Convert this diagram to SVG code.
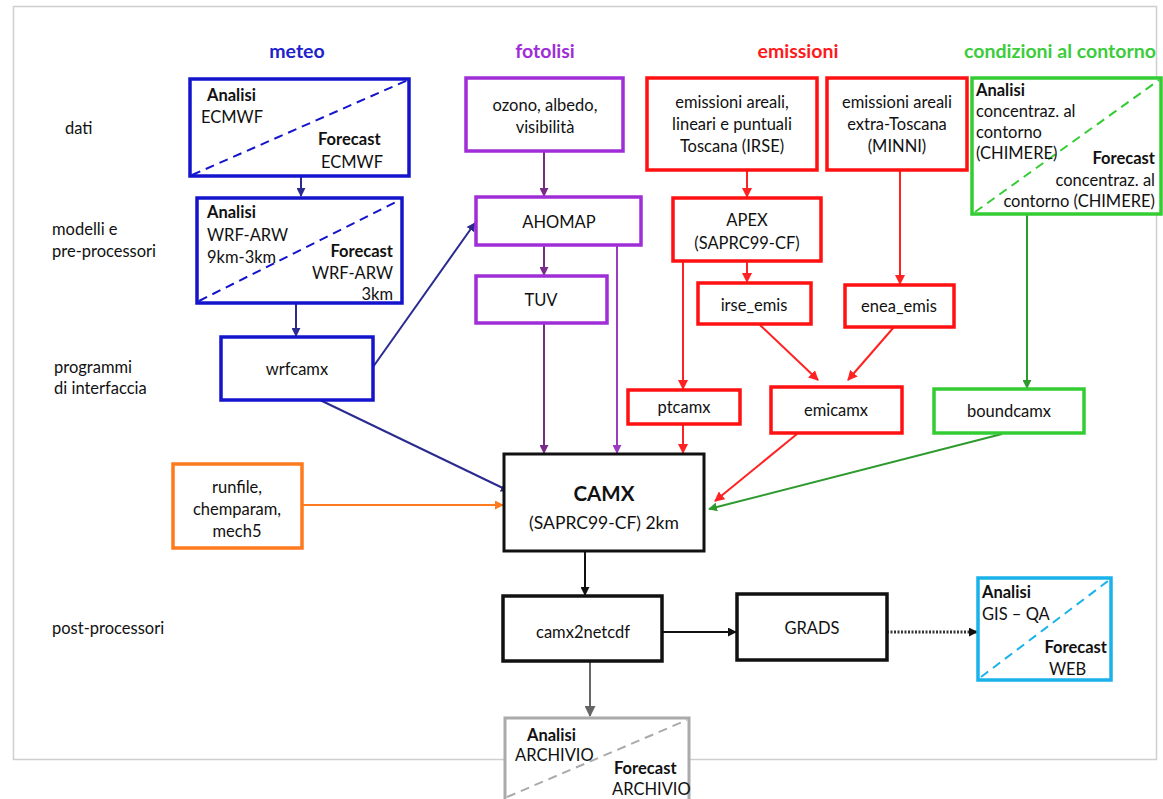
<svg xmlns="http://www.w3.org/2000/svg" width="1163" height="799" viewBox="0 0 1163 799">
<defs>
<style>
text{font-family:Lato,"Open Sans","Liberation Sans",sans-serif;font-size:16.5px;fill:#111}
.b{font-weight:bold}
.m{text-anchor:middle}
.e{text-anchor:end}
.h{font-size:19.5px;font-weight:bold;text-anchor:middle}
.box{fill:#fff;stroke-width:3.5}
.blue{stroke:#1414cc}.purple{stroke:#a02ed8}.red{stroke:#ff1111}.green{stroke:#33cc33}
.orange{stroke:#ff7a1c}.black{stroke:#111}.cyan{stroke:#1ab2ea}.gray{stroke:#aaaaaa}
.dash{fill:none;stroke-width:2;stroke-dasharray:9 6}
.c{fill:none;stroke-width:2}
</style>
<marker id="aNavy" viewBox="0 0 10 10" refX="9" refY="5" markerWidth="9" markerHeight="9" markerUnits="userSpaceOnUse" orient="auto"><path d="M0,0L10,5L0,10z" fill="#2a2a90"/></marker>
<marker id="aPur" viewBox="0 0 10 10" refX="9" refY="5" markerWidth="9" markerHeight="9" markerUnits="userSpaceOnUse" orient="auto"><path d="M0,0L10,5L0,10z" fill="#7a2a88"/></marker>
<marker id="aPur2" viewBox="0 0 10 10" refX="9" refY="5" markerWidth="9" markerHeight="9" markerUnits="userSpaceOnUse" orient="auto"><path d="M0,0L10,5L0,10z" fill="#9b3cbf"/></marker>
<marker id="aRed" viewBox="0 0 10 10" refX="9" refY="5" markerWidth="10" markerHeight="10" markerUnits="userSpaceOnUse" orient="auto"><path d="M0,0L10,5L0,10z" fill="#ff2222"/></marker>
<marker id="aGreen" viewBox="0 0 10 10" refX="9" refY="5" markerWidth="9" markerHeight="9" markerUnits="userSpaceOnUse" orient="auto"><path d="M0,0L10,5L0,10z" fill="#2e9a2e"/></marker>
<marker id="aOr" viewBox="0 0 10 10" refX="9" refY="5" markerWidth="9" markerHeight="9" markerUnits="userSpaceOnUse" orient="auto"><path d="M0,0L10,5L0,10z" fill="#ff7a1c"/></marker>
<marker id="aBlk" viewBox="0 0 10 10" refX="9" refY="5" markerWidth="9" markerHeight="9" markerUnits="userSpaceOnUse" orient="auto"><path d="M0,0L10,5L0,10z" fill="#111"/></marker>
<marker id="aGray" viewBox="0 0 10 10" refX="9" refY="5" markerWidth="11" markerHeight="11" markerUnits="userSpaceOnUse" orient="auto"><path d="M0,0L10,5L0,10z" fill="#666"/></marker>
</defs>
<rect width="1163" height="799" fill="#fff"/>
<rect x="13.5" y="6.5" width="1143" height="753" fill="none" stroke="#cfcfcf" stroke-width="1.5"/>

<g id="headers">
<text class="h" x="297" y="58" style="fill:#2222cc">meteo</text>
<text class="h" x="545" y="58" style="fill:#a02ed8">fotolisi</text>
<text class="h" x="798" y="58" style="fill:#ff1a1a">emissioni</text>
<text class="h" x="1060" y="58" style="fill:#3ccc3c">condizioni al contorno</text>
</g>
<g id="rowlabels">
<text x="65" y="134">dati</text>
<text x="52" y="235">modelli e</text>
<text x="52" y="257">pre-processori</text>
<text x="54" y="373">programmi</text>
<text x="54" y="394">di interfaccia</text>
<text x="52" y="634">post-processori</text>
</g>

<g id="connectors">
<line class="c" x1="301" y1="177" x2="301" y2="196" stroke="#2a2a90" marker-end="url(#aNavy)"/>
<line class="c" x1="296" y1="303" x2="296" y2="336" stroke="#2a2a90" marker-end="url(#aNavy)"/>
<line class="c" x1="373" y1="367" x2="475" y2="223" stroke="#2a2a90" marker-end="url(#aNavy)"/>
<line class="c" x1="320" y1="400" x2="509" y2="491" stroke="#2a2a90" marker-end="url(#aNavy)"/>
<line class="c" x1="302" y1="505" x2="503" y2="505" stroke="#ff7a1c" marker-end="url(#aOr)"/>
<line class="c" x1="544" y1="151" x2="544" y2="196" stroke="#7a2a88" marker-end="url(#aPur)"/>
<line class="c" x1="544" y1="245" x2="544" y2="275" stroke="#7a2a88" marker-end="url(#aPur)"/>
<line class="c" x1="544" y1="323" x2="544" y2="453" stroke="#7a2a88" marker-end="url(#aPur)"/>
<line class="c" x1="617" y1="245" x2="617" y2="453" stroke="#9b3cbf" marker-end="url(#aPur2)"/>
<line class="c" x1="747" y1="170" x2="747" y2="197" stroke="#ff2222" marker-end="url(#aRed)"/>
<line class="c" x1="747" y1="261" x2="747" y2="282" stroke="#ff2222" marker-end="url(#aRed)"/>
<line class="c" x1="683" y1="261" x2="683" y2="389" stroke="#ff2222" marker-end="url(#aRed)"/>
<line class="c" x1="683" y1="424" x2="683" y2="453" stroke="#ff2222" marker-end="url(#aRed)"/>
<line class="c" x1="900" y1="170" x2="900" y2="284" stroke="#ff2222" marker-end="url(#aRed)"/>
<line class="c" x1="760" y1="325" x2="818" y2="380" stroke="#ff2222" marker-end="url(#aRed)"/>
<line class="c" x1="894" y1="327" x2="848" y2="380" stroke="#ff2222" marker-end="url(#aRed)"/>
<line class="c" x1="797" y1="434" x2="715" y2="501" stroke="#ff2222" marker-end="url(#aRed)"/>
<line class="c" x1="1027" y1="215" x2="1027" y2="388" stroke="#2e9a2e" marker-end="url(#aGreen)"/>
<line class="c" x1="1002" y1="434" x2="709" y2="509" stroke="#2e9a2e" marker-end="url(#aGreen)"/>
<line class="c" x1="585" y1="551" x2="585" y2="595" stroke="#111" marker-end="url(#aBlk)"/>
<line class="c" x1="662" y1="632" x2="736" y2="632" stroke="#111" marker-end="url(#aBlk)"/>
<line x1="887" y1="632" x2="977" y2="632" stroke="#333" stroke-width="3" stroke-dasharray="2 1.5" marker-end="url(#aBlk)"/>
<line class="c" x1="590" y1="661" x2="590" y2="716" stroke="#666" marker-end="url(#aGray)"/>
</g>

<g id="meteo-dati">
<rect class="box blue" x="190" y="79" width="219" height="97"/>
<line class="dash blue" x1="192" y1="175" x2="408" y2="80"/>
<text class="b" x="207" y="101">Analisi</text>
<text x="201" y="123">ECMWF</text>
<text class="b" x="318" y="145">Forecast</text>
<text x="321" y="168">ECMWF</text>
</g>
<g id="meteo-modelli">
<rect class="box blue" x="197" y="198" width="205" height="105"/>
<line class="dash blue" x1="199" y1="301" x2="400" y2="200"/>
<text class="b" x="207" y="218">Analisi</text>
<text x="207" y="241">WRF-ARW</text>
<text x="207" y="263">9km-3km</text>
<text class="b e" x="393" y="257">Forecast</text>
<text class="e" x="393" y="279">WRF-ARW</text>
<text class="e" x="393" y="300">3km</text>
</g>
<g id="wrfcamx">
<rect class="box blue" x="221" y="337" width="152" height="63"/>
<text class="m" x="297" y="375">wrfcamx</text>
</g>
<g id="runfile">
<rect class="box orange" x="173" y="464" width="129" height="84"/>
<text class="m" x="237" y="493">runfile,</text>
<text class="m" x="237" y="515">chemparam,</text>
<text class="m" x="237" y="537">mech5</text>
</g>
<g id="fotolisi-dati">
<rect class="box purple" x="466" y="78" width="157" height="73"/>
<text class="m" x="545" y="111">ozono, albedo,</text>
<text class="m" x="545" y="133">visibilità</text>
</g>
<g id="ahomap">
<rect class="box purple" x="476" y="197" width="165" height="48"/>
<text class="m" x="559" y="228">AHOMAP</text>
</g>
<g id="tuv">
<rect class="box purple" x="476" y="276" width="131" height="47"/>
<text class="m" x="541" y="306">TUV</text>
</g>
<g id="irse">
<rect class="box red" x="647" y="78" width="170" height="92"/>
<text class="m" x="732" y="108">emissioni areali,</text>
<text class="m" x="732" y="130">lineari e puntuali</text>
<text class="m" x="732" y="152">Toscana (IRSE)</text>
</g>
<g id="minni">
<rect class="box red" x="827" y="78" width="140" height="92"/>
<text class="m" x="897" y="108">emissioni areali</text>
<text class="m" x="897" y="130">extra-Toscana</text>
<text class="m" x="897" y="152">(MINNI)</text>
</g>
<g id="apex">
<rect class="box red" x="673" y="198" width="148" height="63"/>
<text class="m" x="747" y="226">APEX</text>
<text class="m" x="747" y="249">(SAPRC99-CF)</text>
</g>
<g id="irse_emis">
<rect class="box red" x="698" y="283" width="113" height="41"/>
<text class="m" x="754" y="311">irse_emis</text>
</g>
<g id="enea_emis">
<rect class="box red" x="845" y="285" width="109" height="42"/>
<text class="m" x="899" y="312">enea_emis</text>
</g>
<g id="ptcamx">
<rect class="box red" x="628" y="390" width="112" height="34"/>
<text class="m" x="684" y="413">ptcamx</text>
</g>
<g id="emicamx">
<rect class="box red" x="771" y="387" width="131" height="46"/>
<text class="m" x="836" y="416">emicamx</text>
</g>
<g id="bc-dati">
<rect class="box green" x="972" y="78" width="189" height="136"/>
<line class="dash green" x1="975" y1="212" x2="1159" y2="80"/>
<text class="b" x="976" y="96">Analisi</text>
<text x="976" y="117">concentraz. al</text>
<text x="976" y="138">contorno</text>
<text x="976" y="159">(CHIMERE)</text>
<text class="b e" x="1155" y="164">Forecast</text>
<text class="e" x="1155" y="186">concentraz. al</text>
<text class="e" x="1155" y="207">contorno (CHIMERE)</text>
</g>
<g id="boundcamx">
<rect class="box green" x="934" y="389" width="150" height="44"/>
<text class="m" x="1009" y="417">boundcamx</text>
</g>
<g id="camx">
<rect class="box black" x="504" y="454" width="200" height="97" style="stroke-width:3"/>
<text class="m b" x="604" y="501" style="font-size:20.5px">CAMX</text>
<text class="m" x="604" y="529" style="font-size:17.5px">(SAPRC99-CF) 2km</text>
</g>
<g id="camx2netcdf">
<rect class="box black" x="503" y="596" width="159" height="65"/>
<text class="m" x="583" y="638">camx2netcdf</text>
</g>
<g id="grads">
<rect class="box black" x="737" y="594" width="150" height="66"/>
<text class="m" x="812" y="634">GRADS</text>
</g>
<g id="web">
<rect class="box cyan" x="978" y="578" width="133" height="102"/>
<line class="dash cyan" x1="981" y1="677" x2="1108" y2="581"/>
<text class="b" x="982" y="598">Analisi</text>
<text x="982" y="620">GIS – QA</text>
<text class="b e" x="1107" y="653">Forecast</text>
<text x="1049" y="675">WEB</text>
</g>
<g id="archivio">
<rect class="box gray" x="505" y="718" width="184" height="90" style="stroke-width:3"/>
<line class="dash gray" x1="507" y1="797" x2="687" y2="720"/>
<text class="b" x="527" y="741">Analisi</text>
<text x="515" y="761">ARCHIVIO</text>
<text class="b" x="614" y="774">Forecast</text>
<text x="612" y="795">ARCHIVIO</text>
</g>
</svg>
